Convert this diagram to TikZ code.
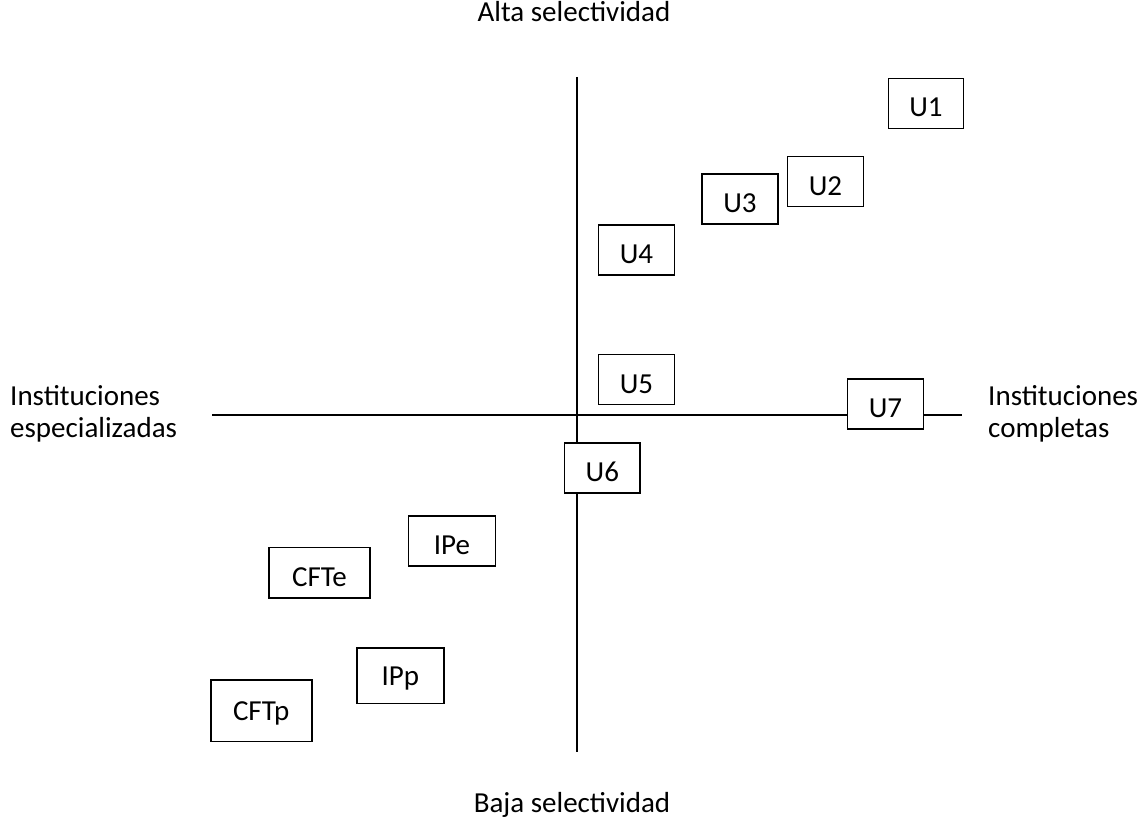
\documentclass[tikz,border=0pt]{standalone}
\usepackage{fontspec}
\setmainfont{Carlito}
\begin{document}
\begin{tikzpicture}[x=1pt,y=-1pt,
  axis/.style={line width=1.7pt},
  box/.style={draw, line width=1.7pt, fill=white, rectangle, inner sep=0pt,
    text height=27pt, text depth=0pt, font=\fontsize{29}{32}\selectfont},
  lbl/.style={inner sep=0pt, font=\fontsize{29}{32}\selectfont}]
\useasboundingbox (0,0) rectangle (1139,821);
% axes
\coordinate (vt) at (577,77);
\coordinate (vb) at (577,752);
\coordinate (hl) at (212,415);
\coordinate (hr) at (962,415);
\draw[axis] (vt) -- (vb);
\draw[axis] (hl) -- (hr);
% boxes
\node[box, minimum width=75pt, minimum height=50pt] (u1) at (926,103.5) {U1};
\node[box, minimum width=76pt, minimum height=50pt] (u2) at (825.5,181.5) {U2};
\node[box, minimum width=76pt, minimum height=50pt] (u3) at (740,199) {U3};
\node[box, minimum width=76pt, minimum height=50pt] (u4) at (636.5,250) {U4};
\node[box, minimum width=76pt, minimum height=50pt] (u5) at (636.5,379.5) {U5};
\node[box, minimum width=76pt, minimum height=50pt] (u7) at (885.5,404.2) {U7};
\node[box, minimum width=75.5pt, minimum height=50pt] (u6) at (602.3,468) {U6};
\node[box, minimum width=87pt, minimum height=50pt] (ipe) at (452,540.7) {IPe};
\node[box, minimum width=101pt, minimum height=50.5pt] (cfte) at (319.5,572.8) {CFTe};
\node[box, minimum width=87pt, minimum height=55.5pt, text height=20pt] (ipp) at (400.3,675.7) {IPp};
\node[box, minimum width=101pt, minimum height=61.5pt, text height=19pt] (cftp) at (261.2,710.7) {CFTp};
% labels
\node[lbl, anchor=base] (alta) at (574,22) {Alta selectividad};
\node[lbl, anchor=base] (baja) at (572,812) {Baja selectividad};
\node[lbl, anchor=base west] (ie1) at (10,405) {Instituciones};
\node[lbl, anchor=base west] (ie2) at (10,437) {especializadas};
\node[lbl, anchor=base west] (ic1) at (988,405) {Instituciones};
\node[lbl, anchor=base west] (ic2) at (988,437) {completas};
\end{tikzpicture}
\end{document}
